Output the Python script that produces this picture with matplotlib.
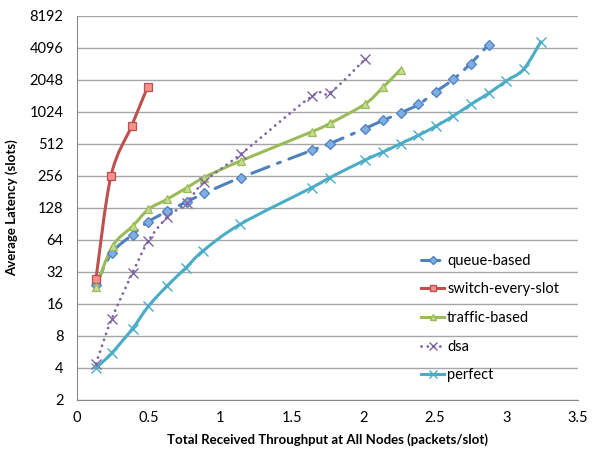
import matplotlib
matplotlib.use("Agg")
import numpy as np
import matplotlib.pyplot as plt
from matplotlib.ticker import FixedLocator, NullLocator
from matplotlib.path import Path
from matplotlib.patches import PathPatch
from matplotlib.lines import Line2D

plt.rcParams['font.family'] = ['Lato', 'DejaVu Sans']

x_queue = [0.131, 0.24, 0.387, 0.497, 0.63, 0.765, 0.886, 1.143, 1.64, 1.767, 2.01, 2.14, 2.26, 2.385, 2.506, 2.63, 2.75, 2.875]
y_queue = [24, 48, 72, 95, 119, 146, 175, 247, 446, 516, 714, 855, 1003, 1203, 1582, 2080, 2920, 4390]

x_switch = [0.131, 0.236, 0.38, 0.492]
y_switch = [27.5, 256, 755, 1760]

x_traffic = [0.131, 0.247, 0.39, 0.497, 0.63, 0.765, 0.886, 1.143, 1.64, 1.767, 2.01, 2.14, 2.26]
y_traffic = [23, 56, 87, 124, 155, 198, 247, 355, 666, 800, 1210, 1760, 2560]

x_dsa = [0.131, 0.24, 0.387, 0.497, 0.63, 0.765, 0.886, 1.143, 1.64, 1.767, 2.01]
y_dsa = [4.4, 11.5, 31.4, 62.6, 105, 143, 226, 410, 1440, 1545, 3190]

x_perfect = [0.131, 0.24, 0.387, 0.497, 0.63, 0.76, 0.88, 1.14, 1.64, 1.767, 2.01, 2.14, 2.26, 2.385, 2.506, 2.63, 2.75, 2.875, 3.0, 3.12, 3.24]
y_perfect = [4.0, 5.5, 9.4, 15.2, 23.8, 35, 50.6, 90, 199, 247, 360, 431, 515, 617, 750, 940, 1203, 1530, 2010, 2580, 4670]

y_ticks = [2, 4, 8, 16, 32, 64, 128, 256, 512, 1024, 2048, 4096, 8192]
x_ticks = [0, 0.5, 1, 1.5, 2, 2.5, 3, 3.5]
x_tick_labels = ['0', '0.5', '1', '1.5', '2', '2.5', '3', '3.5']

fig = plt.figure(figsize=(5.94, 4.54), dpi=100)
ax = fig.add_axes([0.130, 0.119, 0.843, 0.846])
ax.set_yscale('log', base=2)
ax.set_ylim(2, 8192)
ax.set_xlim(0, 3.5)

# scale factors so smoothing happens in roughly display-proportional space
XS = 143.0   # px per x unit
YS = 32.0    # px per doubling


def smooth_path(xs, ys):
    """Excel-like smoothed line: cubic Bezier through the points (Catmull-Rom)."""
    px = np.array(xs) * XS
    py = np.log2(np.array(ys)) * YS
    pts = np.column_stack([px, py])
    n = len(pts)
    verts = [pts[0]]
    codes = [Path.MOVETO]
    t = 1.0 / 6.0
    for i in range(n - 1):
        p0 = pts[i - 1] if i > 0 else pts[i]
        p1 = pts[i]
        p2 = pts[i + 1]
        p3 = pts[i + 2] if i + 2 < n else pts[i + 1]
        c1 = p1 + (p2 - p0) * t
        c2 = p2 - (p3 - p1) * t
        verts += [c1, c2, p2]
        codes += [Path.CURVE4] * 3
    v = np.array(verts)
    data = np.column_stack([v[:, 0] / XS, 2 ** (v[:, 1] / YS)])
    return Path(data, codes)


series = [
    (x_queue, y_queue, 'queue-based', '#4F81BD', (0, (6, 3, 1, 3)), 'D', 5, '#7FAEE6', 2.2),
    (x_switch, y_switch, 'switch-every-slot', '#C0504D', '-', 's', 6, '#F4908D', 2.2),
    (x_traffic, y_traffic, 'traffic-based', '#9BBB59', '-', '^', 6, '#C3DC8E', 2.2),
    (x_dsa, y_dsa, 'dsa', '#8064A2', (0, (0.05, 2.2)), 'x', 7, 'none', 2.0),
    (x_perfect, y_perfect, 'perfect', '#4BACC6', '-', 'x', 7, 'none', 2.2),
]

handles = []
for xs, ys, lab, col, ls, mk, ms, mfc, lw in series:
    patch = PathPatch(smooth_path(xs, ys), facecolor='none', edgecolor=col, lw=lw,
                      linestyle=ls, zorder=3)
    patch.set_capstyle('round')
    ax.add_patch(patch)
    ax.plot(xs, ys, linestyle='none', marker=mk, markersize=ms, markerfacecolor=mfc,
            markeredgecolor=col, markeredgewidth=0.9 if mk != 'x' else 1.0, zorder=4)
    handles.append(Line2D([], [], color=col, lw=lw, linestyle=ls, marker=mk,
                          markersize=ms * 0.8, markerfacecolor=mfc, markeredgecolor=col,
                          dash_capstyle='round', label=lab))

ax.yaxis.set_major_locator(FixedLocator(y_ticks))
ax.yaxis.set_minor_locator(NullLocator())
ax.set_yticklabels([str(v) for v in y_ticks])
ax.set_xticks(x_ticks)
ax.set_xticklabels(x_tick_labels)

ax.grid(axis='y', color='#A6A6A6', lw=1.0)
ax.set_axisbelow(True)
for s in ['top', 'right']:
    ax.spines[s].set_visible(False)
ax.spines['left'].set_color('#888888')
ax.spines['bottom'].set_color('#888888')
ax.tick_params(axis='both', length=0, labelsize=10.5, colors='black', pad=8)
ax.tick_params(axis='y', pad=10)

ax.set_xlabel('Total Received Throughput at All Nodes (packets/slot)', fontsize=9.5,
              fontweight='bold', labelpad=6)
ax.set_ylabel('Average Latency (slots)', fontsize=9.5, fontweight='bold', labelpad=8)

ax.legend(handles=handles, loc='lower left', bbox_to_anchor=(0.66, 0.012), frameon=False,
          fontsize=10.5, handlelength=1.6, handletextpad=0.2, labelspacing=1.0)

fig.savefig('out.png', dpi=100)
